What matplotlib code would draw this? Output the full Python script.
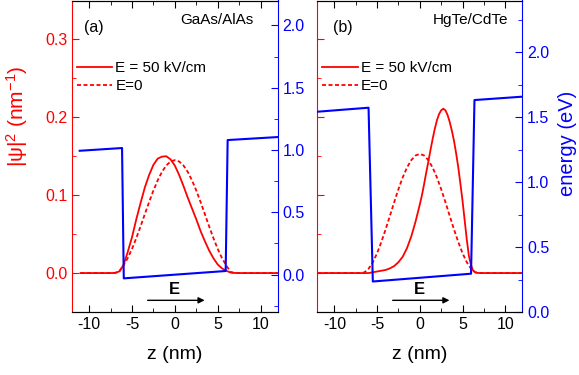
import matplotlib
matplotlib.use('Agg')
import matplotlib.pyplot as plt
from matplotlib.ticker import MultipleLocator

plt.rcParams['font.family'] = ['Liberation Sans', 'DejaVu Sans']
plt.rcParams['mathtext.fontset'] = 'custom'
plt.rcParams['mathtext.rm'] = 'Liberation Sans'
plt.rcParams['mathtext.it'] = 'Liberation Sans'
plt.rcParams['axes.unicode_minus'] = False

# (a) GaAs/AlAs : probability density
za_psi = [-11.0, -7.5, -7.0, -6.5, -6.0, -5.5, -5.0, -4.5, -4.0, -3.5, -3.0, -2.5, -2.0, -1.5, -1.0,
          -0.5, 0.0, 0.5, 1.0, 1.5, 2.0, 2.5, 3.0, 3.5, 4.0, 4.5, 5.0, 5.5, 6.0, 6.5, 7.0, 7.5, 12.0]
psi_a_field = [0, 0, 0.0002, 0.002, 0.010, 0.027, 0.046, 0.069, 0.090, 0.110, 0.126, 0.139, 0.147, 0.1495, 0.150,
               0.146, 0.138, 0.126, 0.112, 0.097, 0.083, 0.069, 0.054, 0.041, 0.029, 0.019, 0.011, 0.006, 0.003,
               0.0006, 0.0001, 0, 0]
psi_a_zero = [0, 0, 0.0002, 0.0014, 0.0098, 0.0192, 0.031, 0.0449, 0.060, 0.0757, 0.0913, 0.106, 0.1191, 0.130,
              0.1382, 0.1433, 0.145, 0.1433, 0.1382, 0.130, 0.1191, 0.106, 0.0913, 0.0757, 0.060, 0.0449, 0.031,
              0.0192, 0.0098, 0.0014, 0.0002, 0, 0]
# (a) potential profile
za_pot = [-11.1, -6.16, -5.96, 5.93, 6.16, 12.0]
Ea_pot = [0.994, 1.016, -0.030, 0.029, 1.080, 1.104]

# (b) HgTe/CdTe : probability density
zb_field = [-12.0, -6.0, -5.5, -5.0, -4.5, -4.0, -3.5, -3.0, -2.5, -2.0, -1.5, -1.0, -0.5, 0.0,
            0.25, 0.5, 0.75, 1.0, 1.25, 1.5, 1.75, 2.0, 2.25, 2.5, 2.75, 3.0, 3.25, 3.5, 3.75, 4.0,
            4.25, 4.5, 4.75, 5.0, 5.25, 5.5, 5.75, 6.0, 6.25, 6.5, 6.75, 7.0, 12.0]
psi_b_field = [0, 0, 0.001, 0.002, 0.003, 0.004, 0.006, 0.009, 0.014, 0.021, 0.032, 0.047, 0.066, 0.088,
               0.100, 0.114, 0.129, 0.143, 0.158, 0.172, 0.185, 0.196, 0.204, 0.209, 0.211, 0.209, 0.203, 0.194,
               0.183, 0.170, 0.154, 0.136, 0.115, 0.093, 0.068, 0.043, 0.022, 0.010, 0.003, 0.001, 0.0002, 0, 0]
zb_zero = [-12.0, -7.0, -6.5, -6.0, -5.5, -5.0, -4.5, -4.0, -3.5, -3.0, -2.5, -2.0, -1.5, -1.0, -0.5, 0.0,
           0.5, 1.0, 1.5, 2.0, 2.5, 3.0, 3.5, 4.0, 4.5, 5.0, 5.5, 6.0, 6.5, 7.0, 12.0]
psi_b_zero = [0, 0.0001, 0.0008, 0.0055, 0.0139, 0.0255, 0.040, 0.0562, 0.0735, 0.091, 0.1078, 0.1229, 0.1355,
              0.145, 0.151, 0.153, 0.151, 0.145, 0.1355, 0.1229, 0.1078, 0.091, 0.0735, 0.0562, 0.040, 0.0255,
              0.0139, 0.0055, 0.0008, 0.0001, 0]
# (b) potential profile
zb_pot = [-12.0, -6.0, -5.5, 6.0, 6.4, 12.0]
Eb_pot = [1.543, 1.574, 0.235, 0.295, 1.633, 1.659]

fig = plt.figure(figsize=(5.79, 3.75), dpi=100)
ax_a = fig.add_axes([72 / 579, 1 - 312 / 375, 205.7 / 579, 311.5 / 375])
ax_b = fig.add_axes([317.3 / 579, 1 - 312 / 375, 205 / 579, 311.5 / 375])

dash = (0, (2.2, 1.4))
panels = [
    (ax_a, za_psi, psi_a_field, za_psi, psi_a_zero, za_pot, Ea_pot, (-0.3, 2.2), '(a)', 'GaAs/AlAs'),
    (ax_b, zb_field, psi_b_field, zb_zero, psi_b_zero, zb_pot, Eb_pot, (0.0, 2.4), '(b)', 'HgTe/CdTe'),
]

for i, (ax, z1, p1, z0, p0, zp, ep, elim, tag, name) in enumerate(panels):
    ax.plot(z1, p1, color='red', lw=1.3, label='E = 50 kV/cm')
    ax.plot(z0, p0, color='red', lw=1.3, ls=dash, label='E=0')
    ax.set_xlim(-12, 12)
    ax.set_ylim(-0.05, 0.35)
    ax.xaxis.set_major_locator(MultipleLocator(5))
    ax.xaxis.set_minor_locator(MultipleLocator(2.5))
    ax.yaxis.set_major_locator(MultipleLocator(0.1))
    ax.yaxis.set_minor_locator(MultipleLocator(0.05))
    ax.tick_params(axis='x', which='both', direction='in', top=True, labelsize=11.5)
    ax.tick_params(axis='x', which='major', length=5)
    ax.tick_params(axis='x', which='minor', length=3)
    ax.tick_params(axis='y', which='both', direction='in', colors='red', labelsize=11.5)
    ax.tick_params(axis='y', which='major', length=5)
    ax.tick_params(axis='y', which='minor', length=3)
    ax.spines['left'].set_color('red')
    ax.spines['right'].set_visible(False)
    ax.set_xlabel('z (nm)', fontsize=14)
    ax.xaxis.set_label_coords(0.5, -0.11)

    ax2 = ax.twinx()
    ax2.plot(zp, ep, color='blue', lw=1.5)
    ax2.set_ylim(*elim)
    ax2.yaxis.set_major_locator(MultipleLocator(0.5))
    ax2.yaxis.set_minor_locator(MultipleLocator(0.25))
    ax2.tick_params(axis='y', which='both', direction='in', colors='blue', labelsize=11.5)
    ax2.tick_params(axis='y', which='major', length=5)
    ax2.tick_params(axis='y', which='minor', length=3)
    ax2.spines['right'].set_color('blue')
    ax2.spines['left'].set_visible(False)
    ax2.set_yticks([0.0, 0.5, 1.0, 1.5, 2.0])
    ax2.set_yticklabels(['0.0', '0.5', '1.0', '1.5', '2.0'])

    ax.legend(loc='upper left', bbox_to_anchor=(0.025, 0.805), frameon=False, fontsize=11,
              handlelength=2.3, handletextpad=0.2, borderpad=0, borderaxespad=0, labelspacing=0.25)
    ax.annotate('', xy=(3.8, -0.035), xytext=(-3.5, -0.035),
                arrowprops=dict(arrowstyle='-|>', color='black', lw=1.0, mutation_scale=9))
    ax.text(0, -0.021, 'E', ha='center', va='center', fontsize=12, fontweight='bold')

    if i == 0:
        ax.text(0.06, 0.913, tag, transform=ax.transAxes, fontsize=11.5, va='center')
        ax.text(0.88, 0.936, name, transform=ax.transAxes, fontsize=11, ha='right', va='center')
        ax.set_ylabel(r'$\mathregular{|ψ|^2\ (nm^{-1})}$', color='red', fontsize=15)
        ax.yaxis.set_label_coords(-0.205, 0.628)
    else:
        ax.text(0.075, 0.913, tag, transform=ax.transAxes, fontsize=11.5, va='center')
        ax.text(0.93, 0.936, name, transform=ax.transAxes, fontsize=11, ha='right', va='center')
        ax.tick_params(axis='y', labelleft=False)
        ax2.set_ylabel('energy (eV)', color='blue', fontsize=14.5)
        ax2.yaxis.set_label_coords(1.175, 0.542)

fig.savefig('out.png', dpi=100)
